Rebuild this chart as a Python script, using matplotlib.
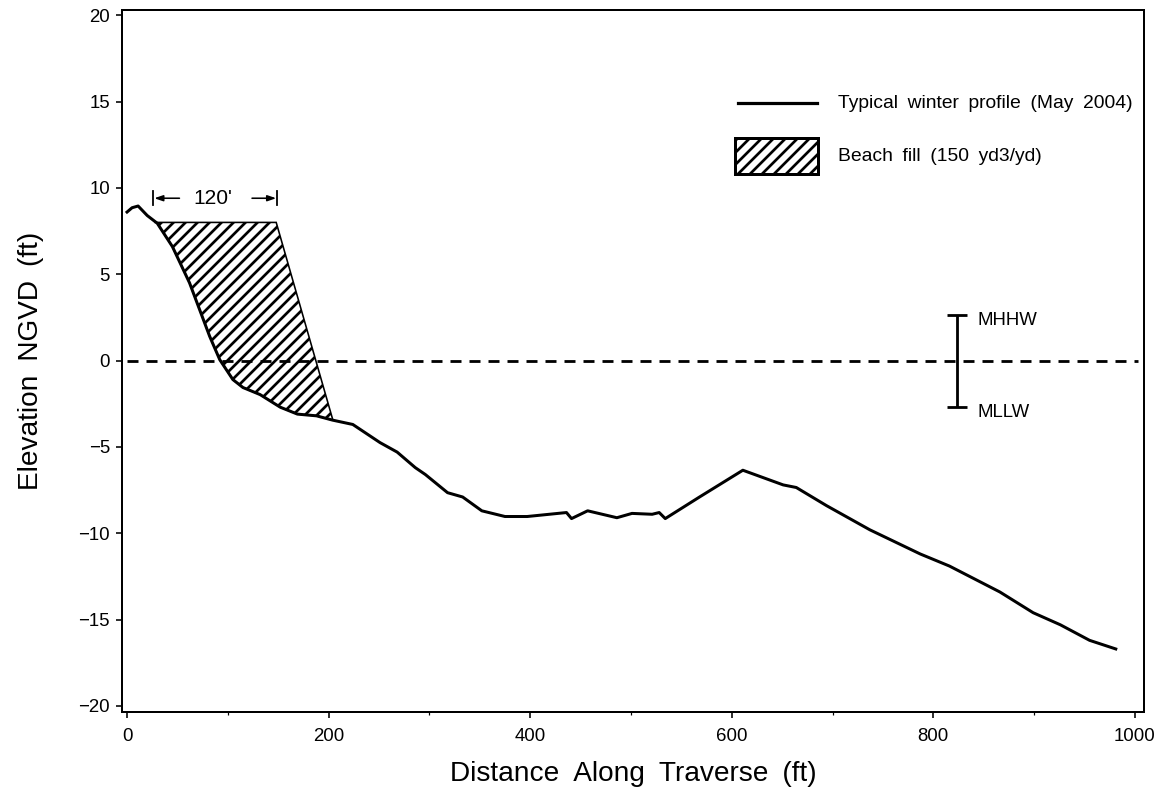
import numpy as np
import matplotlib
matplotlib.use("Agg")
import matplotlib.pyplot as plt
from matplotlib.patches import Polygon, Rectangle
from matplotlib.lines import Line2D

# Beach profile survey (distance along traverse, ft / elevation NGVD, ft)
distance = [0, 5, 11, 20, 30, 45, 62, 72, 82, 92, 105, 115, 132, 152, 169, 188,
            204, 224, 251, 268, 286, 296, 318, 333, 352, 375, 397, 436, 441, 457,
            486, 501, 521, 528, 534, 568, 611, 651, 664, 694, 737, 787, 816, 866,
            899, 926, 955, 981]
elevation = [8.6, 8.85, 8.95, 8.4, 7.95, 6.6, 4.5, 2.95, 1.4, 0.05, -1.1, -1.56,
             -1.97, -2.7, -3.1, -3.2, -3.45, -3.7, -4.75, -5.3, -6.2, -6.6, -7.65,
             -7.9, -8.7, -9.03, -9.03, -8.8, -9.15, -8.7, -9.1, -8.85, -8.9, -8.8,
             -9.15, -7.9, -6.35, -7.2, -7.35, -8.4, -9.8, -11.2, -11.9, -13.4,
             -14.6, -15.3, -16.2, -16.7]

# Beach fill template
berm_start = 28.0      # ft
berm_width = 120.0     # ft
berm_elev = 8.0        # ft NGVD
toe_x = 204.0          # ft
toe_elev = -3.4        # ft NGVD

# Tidal datums
datum_x = 823.0
mhhw = 2.66
mllw = -2.66
msl = 0.0

x_ticks = [0, 200, 400, 600, 800, 1000]
x_minor = [100, 300, 500, 700, 900]
y_ticks = [-20, -15, -10, -5, 0, 5, 10, 15, 20]

DPI = 144
plt.rcParams["font.family"] = ["Liberation Sans", "DejaVu Sans"]
plt.rcParams["hatch.linewidth"] = 1.35
plt.rcParams["lines.scale_dashes"] = False

fig = plt.figure(figsize=(1163 / DPI, 798 / DPI), dpi=DPI)
ax = fig.add_axes([122 / 1163, 1 - 712 / 798, 1022 / 1163, 702 / 798])
ax.set_xlim(-5, 1009)
ax.set_ylim(-20.35, 20.3)

# beach fill polygon: berm crest, foreslope to toe, then back along the profile
dist = np.asarray(distance, float)
elev = np.asarray(elevation, float)
berm_end = berm_start + berm_width
inside = (dist > berm_start) & (dist < toe_x)
lower_x = np.concatenate([[berm_start], dist[inside], [toe_x]])
lower_y = np.interp(lower_x, dist, elev)
poly_x = np.concatenate([[berm_start, berm_end, toe_x], lower_x[::-1]])
poly_y = np.concatenate([[berm_elev, berm_elev, toe_elev], lower_y[::-1]])
fill = Polygon(np.column_stack([poly_x, poly_y]), closed=True, facecolor="white",
               edgecolor="black", linewidth=0.8, hatch="////", zorder=2)
ax.add_patch(fill)

# mean sea level
ax.plot([0, 1003], [msl, msl], color="black", lw=1.4, dashes=(5.5, 4.0), zorder=3)

# profile
ax.plot(dist, elev, color="black", lw=1.5, solid_joinstyle="round", zorder=4)

# tidal range bar
ax.errorbar([datum_x], [msl], yerr=[[msl - mllw], [mhhw - msl]], fmt="none",
            ecolor="black", elinewidth=1.4, capsize=5, capthick=1.4, zorder=4)
ax.text(datum_x + 21, mhhw - 0.35, "MHHW", fontsize=9.3, va="center", ha="left")
ax.text(datum_x + 21, mllw - 0.35, "MLLW", fontsize=9.3, va="center", ha="left")

# berm width dimension
dim_y = 9.4
for bx in (berm_start - 2, berm_end + 1):
    ax.plot([bx, bx], [dim_y - 0.42, dim_y + 0.42], color="black", lw=0.9)
arrow = dict(arrowstyle="-|>,head_length=0.35,head_width=0.12", color="black",
             lw=0.8, shrinkA=0, shrinkB=0)
ax.annotate("", xy=(berm_start - 1, dim_y), xytext=(berm_start + 24, dim_y),
            arrowprops=arrow)
ax.annotate("", xy=(berm_end, dim_y), xytext=(berm_end - 24, dim_y),
            arrowprops=arrow)
ax.text((berm_start + berm_end) / 2 - 3, dim_y, f"{berm_width:.0f}'", fontsize=10.5,
        ha="center", va="center")

# legend
lx0, lx1, tx = 0.603, 0.680, 0.7006
ax.add_line(Line2D([lx0, lx1], [0.8675, 0.8675], transform=ax.transAxes,
                   color="black", lw=1.6))
ax.text(tx, 0.8675, "Typical\u2002winter\u2002profile\u2002(May\u20022004)",
        transform=ax.transAxes, fontsize=9.65, va="center", ha="left")
ax.add_patch(Rectangle((0.600, 0.766), 0.081, 0.052, transform=ax.transAxes,
                       facecolor="white", edgecolor="black", lw=1.5, hatch="////"))
ax.text(tx, 0.792, "Beach\u2002fill\u2002(150\u2002yd3/yd)", transform=ax.transAxes,
        fontsize=9.65, va="center", ha="left")

# axes styling
ax.set_xticks(x_ticks)
ax.set_xticks(x_minor, minor=True)
ax.set_yticks(y_ticks)
ax.set_yticklabels([f"\u2212{abs(v)}" if v < 0 else str(v) for v in y_ticks])
ax.tick_params(which="major", direction="out", length=3, width=0.8,
               labelsize=9.3, pad=3)
ax.tick_params(axis="x", which="major", pad=5)
ax.tick_params(which="minor", direction="out", length=1.5, width=0.6)
for s in ax.spines.values():
    s.set_linewidth(1.0)

ax.set_xlabel("Distance\u2002Along\u2002Traverse\u2002(ft)", fontsize=14, labelpad=8)
ax.set_ylabel("Elevation\u2002NGVD\u2002(ft)", fontsize=14, labelpad=17)

fig.savefig("out.png", dpi=DPI)
